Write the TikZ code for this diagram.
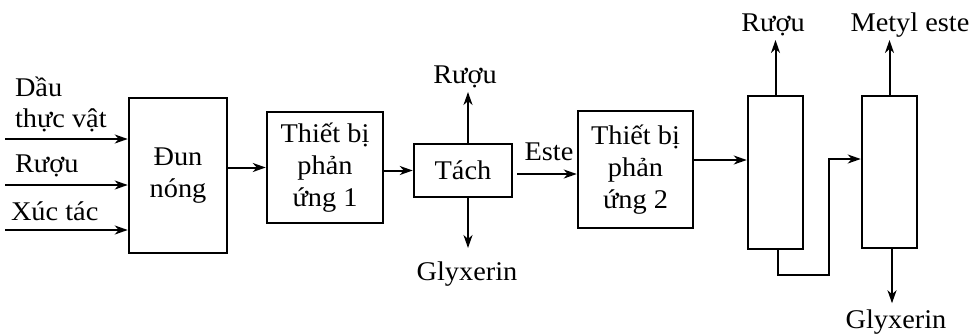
\documentclass[tikz,border=0pt]{standalone}
\usepackage{fontspec}
\setmainfont{Liberation Serif}[FakeStretch=1.05]
\usetikzlibrary{arrows.meta}
\begin{document}
\begin{tikzpicture}[x=1pt,y=-1pt,
  font=\fontsize{27}{32}\selectfont,
  line width=2pt,
  >={Stealth[length=13pt,width=9pt,inset=4pt]},
  box/.style={draw, line width=2.5pt, align=center, inner sep=0pt},
  lbl/.style={inner sep=0pt, anchor=base},
  arr/.style={->}]
\useasboundingbox (0,0) rectangle (979,335);

% boxes
\node[box, minimum width=98pt, minimum height=155pt] (dun) at (178,175.5) {Đun\\nóng};
\node[box, minimum width=116pt, minimum height=111pt] (r1) at (325,167.5) {Thiết bị\\phản\\ứng 1};
\node[box, minimum width=98pt, minimum height=53pt] (tach) at (463,170.5) {Tách};
\node[box, minimum width=115pt, minimum height=117pt] (r2) at (635.5,169.5) {Thiết bị\\phản\\ứng 2};
\node[box, minimum width=55pt, minimum height=153pt] (c1) at (775.5,172.5) {};
\node[box, minimum width=55pt, minimum height=152pt] (c2) at (889.5,172) {};

% input labels
\node[lbl, anchor=base west] (ldau) at (14,96) {Dầu};
\node[lbl, anchor=base west] (lthuc) at (14,127) {thực vật};
\node[lbl, anchor=base west] (lruou) at (14,172) {Rượu};
\node[lbl, anchor=base west] (lxuc) at (10,220) {Xúc tác};

% other labels
\node[lbl] (truou) at (465,83) {Rượu};
\node[lbl] (tgly) at (467,280) {Glyxerin};
\node[lbl] (teste) at (549,160) {Este};
\node[lbl] (truou2) at (773,31) {Rượu};
\node[lbl] (tmet) at (910,31) {Metyl este};
\node[lbl] (tgly2) at (896,328) {Glyxerin};

% coordinates
\coordinate (i1) at (5,139);
\coordinate (i2) at (5,185);
\coordinate (i3) at (5,230);
\coordinate (e1) at (517,174);
\coordinate (e2) at (0,160);
\coordinate (top) at (0,40);
\coordinate (k1) at (829,275);
\coordinate (k2) at (829,159);
\coordinate (tu) at (468,92);
\coordinate (td) at (468,248);

% connectors
\draw[arr] (i1) -- (i1 -| dun.west);
\draw[arr] (i2) -- (i2 -| dun.west);
\draw[arr] (i3) -- (i3 -| dun.west);
\draw[arr] (dun.east |- r1.west) -- (r1.west);
\draw[arr] (r1.east |- tach.west) -- (tach.west);
\draw[arr] (tu |- tach.north) -- (tu);
\draw[arr] (td |- tach.south) -- (td);
\draw[arr] (e1) -- (e1 -| r2.west);
\draw[arr] (r2.east |- e2) -- (c1.west |- e2);
\draw[arr] (c1.north) -- (c1.north |- top);
\draw[arr] (c2.north) -- (c2.north |- top);
\draw[arr] ([xshift=2.5pt]c1.south) |- (k1) -- (k2) -- (k2 -| c2.west);
\draw[arr] ([xshift=2.5pt]c2.south) -- ++(0,54);
\end{tikzpicture}
\end{document}
